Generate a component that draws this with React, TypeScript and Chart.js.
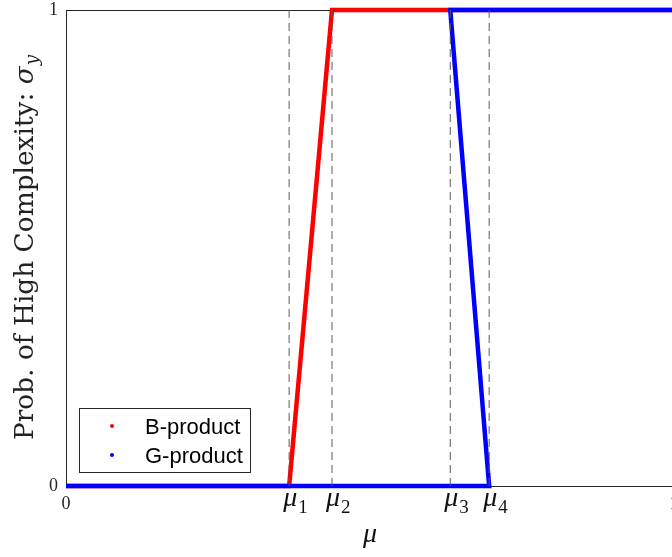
import React, { useEffect, useRef } from "react";
import { Chart, registerables } from "chart.js";

Chart.register(...registerables);

const MU_VALUES = [0.367, 0.4375, 0.632, 0.696];
const MU_LABELS = ["1", "2", "3", "4"];
const X_TICKS = [0, ...MU_VALUES, 1];
const Y_TICKS = [0, 1];

const B_X = [0, 0.367, 0.4375, 1];
const B_Y = [0, 0, 1, 1];
const G_X = [0, 0.696, 0.632, 1];
const G_Y = [0, 0, 1, 1];

const SERIES_LABELS = ["B-product", "G-product"];
const SERIES_COLORS = ["#ff0000", "#0000ff"];

const Y_TITLE_MAIN = "Prob. of High Complexity: ";
const Y_TITLE_SYM = "σ";
const Y_TITLE_SUB = "y";
const X_TITLE = "μ";

const AXIS_COLOR = "#262626";
const SERIF = "'Liberation Serif', 'DejaVu Serif', serif";
const TITLE_SERIF = "'DejaVu Serif', serif";

const decorPlugin = {
  id: "decor",
  beforeDatasetsDraw(chart: any) {
    const { ctx, chartArea } = chart;
    ctx.save();
    ctx.strokeStyle = AXIS_COLOR;
    ctx.lineWidth = 1;
    ctx.beginPath();
    ctx.moveTo(chartArea.left, Math.round(chartArea.top) + 0.5);
    ctx.lineTo(chartArea.right, Math.round(chartArea.top) + 0.5);
    ctx.lineTo(chartArea.right, chartArea.bottom);
    ctx.stroke();
    ctx.restore();
  },
  afterDraw(chart: any) {
    const { ctx, chartArea, scales } = chart;
    const xs = scales.x;
    ctx.save();

    // mu tick labels
    ctx.fillStyle = "#111";
    ctx.textBaseline = "alphabetic";
    ctx.textAlign = "left";
    MU_VALUES.forEach((v, i) => {
      const px = xs.getPixelForValue(v);
      ctx.font = `italic 28px ${SERIF}`;
      ctx.fillText("μ", px - 6, chartArea.bottom + 20);
      const w = ctx.measureText("μ").width;
      ctx.font = `19px ${SERIF}`;
      ctx.fillText(MU_LABELS[i], px - 6 + w + 1, chartArea.bottom + 27);
    });

    // x title
    ctx.font = `italic 28px ${SERIF}`;
    ctx.textAlign = "center";
    ctx.fillText(X_TITLE, (chartArea.left + chartArea.right) / 2, chartArea.bottom + 56);

    // y title
    ctx.save();
    ctx.fillStyle = "#222";
    ctx.translate(33, 440);
    ctx.rotate(-Math.PI / 2);
    ctx.textAlign = "left";
    const target = 385;
    ctx.font = `26px ${TITLE_SERIF}`;
    const wMain = ctx.measureText(Y_TITLE_MAIN).width;
    ctx.font = `italic 26px ${TITLE_SERIF}`;
    const wSym = ctx.measureText(Y_TITLE_SYM).width;
    ctx.font = `italic 18px ${TITLE_SERIF}`;
    const wSub = ctx.measureText(Y_TITLE_SUB).width;
    const total = wMain + wSym + wSub + 1;
    ctx.scale(target / total, 1);
    ctx.font = `26px ${TITLE_SERIF}`;
    ctx.fillText(Y_TITLE_MAIN, 0, 0);
    ctx.font = `italic 26px ${TITLE_SERIF}`;
    ctx.fillText(Y_TITLE_SYM, wMain, 0);
    ctx.font = `italic 18px ${TITLE_SERIF}`;
    ctx.fillText(Y_TITLE_SUB, wMain + wSym + 1, 5);
    ctx.restore();

    // legend
    const lx = 79.5, ly = 408.5, lw = 171, lh = 64;
    ctx.fillStyle = "#ffffff";
    ctx.fillRect(lx, ly, lw, lh);
    ctx.strokeStyle = AXIS_COLOR;
    ctx.lineWidth = 1;
    ctx.strokeRect(lx, ly, lw, lh);
    SERIES_LABELS.forEach((lab, i) => {
      const cy = 426 + i * 29;
      ctx.fillStyle = SERIES_COLORS[i];
      ctx.beginPath();
      ctx.arc(112, cy, 2, 0, Math.PI * 2);
      ctx.fill();
      ctx.fillStyle = "#000";
      ctx.font = `22px 'Liberation Sans', Arial, sans-serif`;
      ctx.textAlign = "left";
      ctx.textBaseline = "alphabetic";
      ctx.fillText(lab, 145, cy + 8);
    });
    ctx.restore();
  },
};

export default function App() {
  const ref = useRef<HTMLCanvasElement>(null);
  useEffect(() => {
    document.body.style.margin = "0";
    document.body.style.overflow = "hidden";
    const dashData: any[] = [];
    MU_VALUES.forEach((v) => {
      dashData.push({ x: v, y: 0 }, { x: v, y: 1 }, { x: v, y: null });
    });
    const chart = new Chart(ref.current!, {
      type: "line",
      data: {
        datasets: [
          {
            label: "dash",
            data: dashData,
            borderColor: "#5a5a5a",
            borderWidth: 1,
            borderDash: [8, 5],
            pointRadius: 0,
            spanGaps: false,
            order: 0,
          },
          {
            label: SERIES_LABELS[1],
            data: G_X.map((x, i) => ({ x, y: G_Y[i] })),
            borderColor: SERIES_COLORS[1],
            borderWidth: 4.5,
            pointRadius: 0,
            tension: 0,
            clip: false,
            order: 1,
          },
          {
            label: SERIES_LABELS[0],
            data: B_X.map((x, i) => ({ x, y: B_Y[i] })),
            borderColor: SERIES_COLORS[0],
            borderWidth: 4.5,
            pointRadius: 0,
            tension: 0,
            clip: false,
            order: 2,
          },
        ],
      },
      options: {
        animation: false,
        responsive: false,
        events: [],
        layout: { padding: { top: 10, right: 46, left: 0, bottom: 0 } },
        plugins: { legend: { display: false }, tooltip: { enabled: false } },
        scales: {
          x: {
            type: "linear",
            min: 0,
            max: 1,
            afterBuildTicks: (s: any) => {
              s.ticks = X_TICKS.map((v) => ({ value: v }));
            },
            afterFit: (s: any) => {
              s.height = 71;
            },
            grid: { display: false, drawTicks: false },
            border: { display: true, color: AXIS_COLOR, width: 1 },
            ticks: {
              padding: 9,
              color: AXIS_COLOR,
              font: { family: SERIF, size: 18, lineHeight: 1 },
              maxRotation: 0,
              autoSkip: false,
              callback: (v: any) => (v === 0 || v === 1 ? String(v) : ""),
            },
          },
          y: {
            type: "linear",
            min: 0,
            max: 1,
            afterBuildTicks: (s: any) => {
              s.ticks = Y_TICKS.map((v) => ({ value: v }));
            },
            afterFit: (s: any) => {
              s.width = 66;
              s.paddingTop = 0;
              s.paddingBottom = 0;
            },
            grid: { display: false, drawTicks: false },
            border: { display: true, color: AXIS_COLOR, width: 1 },
            ticks: {
              padding: 8,
              color: AXIS_COLOR,
              font: { family: SERIF, size: 18, lineHeight: 1 },
              callback: (v: any) => String(v),
            },
          },
        },
      },
      plugins: [decorPlugin],
    });
    return () => chart.destroy();
  }, []);
  return (
    <div style={{ width: 672, height: 557, overflow: "hidden", background: "#fff" }}>
      <canvas ref={ref} width={720} height={557} style={{ display: "block" }} />
    </div>
  );
}
